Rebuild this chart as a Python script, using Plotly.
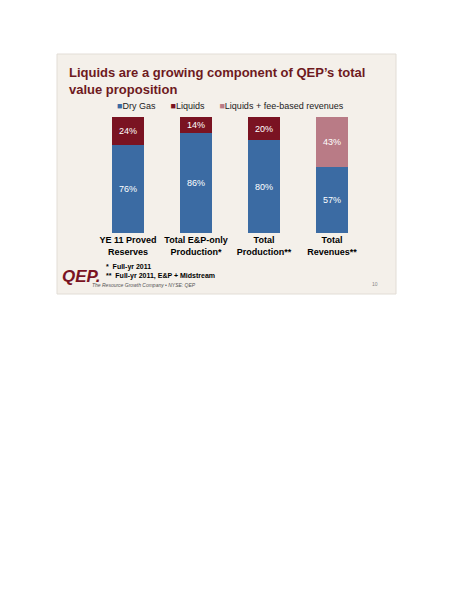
import plotly.graph_objects as go

categories = ["YE 11 Proved<br>Reserves", "Total E&P-only<br>Production*",
              "Total<br>Production**", "Total<br>Revenues**"]
dry_gas = [76, 86, 80, 57]
liquids = [24, 14, 20, None]
fee_based = [None, None, None, 43]
series_names = ["Dry Gas", "Liquids", "Liquids + fee-based revenues"]
series_colors = ["#3b6ba3", "#7a1322", "#b97b86"]

W, H = 464, 600
OFF = 8  # page body margin in the browser


def px(x):
    return (x - OFF) / W


def py(y):
    return 1 - (y - OFF) / H


fig = go.Figure()
for name, vals, color in zip(series_names, [dry_gas, liquids, fee_based], series_colors):
    fig.add_bar(x=categories, y=vals, name=name, marker_color=color,
                text=[f"{v}%" if v else "" for v in vals])
fig.update_traces(textposition="inside", insidetextanchor="middle",
                  textfont=dict(color="white", size=9), marker_line_width=0)

fig.update_layout(
    width=W, height=H, margin=dict(l=0, r=0, t=0, b=0),
    paper_bgcolor="white", plot_bgcolor="rgba(0,0,0,0)",
    barmode="stack", bargap=0.53, showlegend=False,
    font=dict(family="Liberation Sans, Arial", color="black"),
    xaxis=dict(domain=[px(94), px(366)], showgrid=False, showline=False,
               tickfont=dict(size=9), tickvals=categories,
               ticktext=[f"<b>{c}</b>" for c in categories]),
    yaxis=dict(domain=[py(233), py(117)], range=[0, 100], visible=False),
)

fig.add_shape(type="rect", xref="paper", yref="paper", layer="below",
              x0=px(57), x1=px(396), y0=py(294), y1=py(54),
              fillcolor="#f4f0ea", line=dict(color="#e2ddd6", width=1))

legend_text = "&nbsp;&nbsp;&nbsp;&nbsp;&nbsp;&nbsp;".join(
    f"<span style='color:{c}'>■</span>{n}" for n, c in zip(series_names, series_colors))
fig.add_annotation(x=px(230), y=py(106), xref="paper", yref="paper",
                   xanchor="center", yanchor="middle", showarrow=False,
                   text=legend_text, font=dict(size=9, color="#222222"))

fig.add_annotation(x=px(67), y=py(81), xref="paper", yref="paper",
                   xanchor="left", yanchor="middle", align="left", showarrow=False,
                   text="<b>Liquids are a growing component of QEP’s total<br>value proposition</b>",
                   font=dict(size=13, color="#6e1a1e"))
fig.add_annotation(x=px(104), y=py(272), xref="paper", yref="paper",
                   xanchor="left", yanchor="middle", align="left", showarrow=False,
                   text="<b>*  Full-yr 2011<br>**  Full-yr 2011, E&P + Midstream</b>",
                   font=dict(size=7))
fig.add_annotation(x=px(60), y=py(276), xref="paper", yref="paper",
                   xanchor="left", yanchor="middle", showarrow=False,
                   text="<b><i>QEP.</i></b>", font=dict(size=17, color="#7a1322"))
fig.add_annotation(x=px(90), y=py(285), xref="paper", yref="paper",
                   xanchor="left", yanchor="middle", showarrow=False,
                   text="<i>The Resource Growth Company • NYSE: QEP</i>",
                   font=dict(size=5, color="#555555"))
fig.add_annotation(x=px(375), y=py(284), xref="paper", yref="paper",
                   xanchor="center", yanchor="middle", showarrow=False,
                   text="10", font=dict(size=5, color="#888888"))

fig.write_html("out.html")
